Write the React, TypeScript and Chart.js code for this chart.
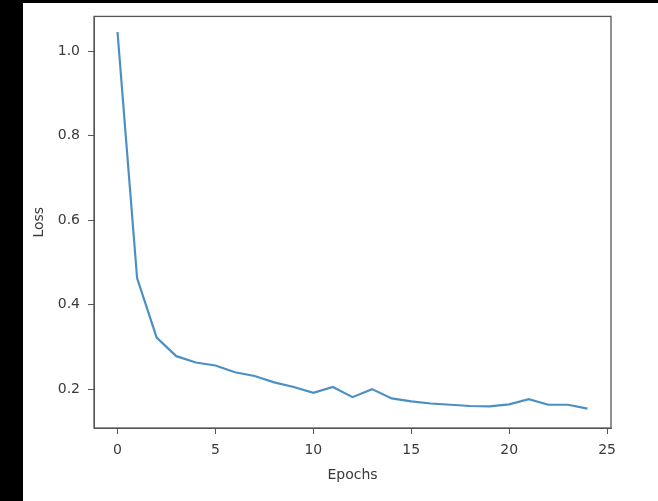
import React, { useEffect, useRef } from "react";
import { Chart, registerables } from "chart.js";

Chart.register(...registerables);

const epochs = [0, 1, 2, 3, 4, 5, 6, 7, 8, 9, 10, 11, 12, 13, 14, 15, 16, 17, 18, 19, 20, 21, 22, 23, 24];
const loss = [
  1.045, 0.463, 0.322, 0.278, 0.263, 0.256, 0.24, 0.231, 0.216, 0.205,
  0.191, 0.205, 0.181, 0.2, 0.178, 0.171, 0.166, 0.163, 0.16, 0.159,
  0.164, 0.176, 0.163, 0.163, 0.154,
];
const xTicks = [0, 5, 10, 15, 20, 25];
const yTicks = [0.2, 0.4, 0.6, 0.8, 1.0];
const xLabel = "Epochs";
const yLabel = "Loss";

const W = 658;
const H = 501;

export default function App() {
  const ref = useRef<HTMLCanvasElement | null>(null);

  useEffect(() => {
    if (!ref.current) return;
    const font = { family: "'DejaVu Sans', sans-serif", size: 14 };
    const axisColor = "#555";
    const textColor = "#3a3a3a";

    const bgPlugin = {
      id: "bg",
      beforeDraw(chart: any) {
        const c = chart.ctx;
        c.save();
        c.fillStyle = "#000";
        c.fillRect(0, 0, chart.width, chart.height);
        c.fillStyle = "#fff";
        c.fillRect(23, 3, chart.width - 23, chart.height - 3);
        c.restore();
      },
      afterDraw(chart: any) {
        const a = chart.chartArea;
        const c = chart.ctx;
        c.save();
        c.strokeStyle = axisColor;
        c.lineWidth = 1.3;
        c.strokeRect(a.left, a.top, a.right - a.left, a.bottom - a.top);
        c.restore();
      },
    };

    const chart = new Chart(ref.current, {
      type: "line",
      data: {
        datasets: [
          {
            data: epochs.map((e, i) => ({ x: e, y: loss[i] })),
            borderColor: "rgba(45,125,185,0.85)",
            borderWidth: 2.2,
            pointRadius: 0,
            tension: 0,
            fill: false,
          },
        ],
      },
      options: {
        responsive: false,
        animation: false,
        devicePixelRatio: 1,
        layout: { padding: { left: 24, top: 14, right: 47, bottom: 0 } },
        plugins: { legend: { display: false }, tooltip: { enabled: false } },
        scales: {
          x: {
            type: "linear",
            min: -1.2,
            max: 25.2,
            afterFit: (s: any) => {
              s.height = 73;
            },
            afterBuildTicks: (s: any) => {
              s.ticks = xTicks.map((v) => ({ value: v }));
            },
            ticks: {
              font,
              color: textColor,
              padding: 8,
              maxRotation: 0,
              callback: (v: any) => String(v),
            },
            grid: {
              drawOnChartArea: false,
              drawTicks: true,
              tickLength: 6,
              color: axisColor,
            },
            border: { display: true, color: axisColor },
            title: {
              display: true,
              text: xLabel,
              font,
              color: textColor,
              padding: { top: 4, bottom: 17 },
            },
          },
          y: {
            type: "linear",
            min: 0.108,
            max: 1.082,
            afterFit: (s: any) => {
              s.width = 70;
            },
            afterBuildTicks: (s: any) => {
              s.ticks = yTicks.map((v) => ({ value: v }));
            },
            ticks: {
              font,
              color: textColor,
              padding: 8,
              callback: (v: any) => Number(v).toFixed(1),
            },
            grid: {
              drawOnChartArea: false,
              drawTicks: true,
              tickLength: 6,
              color: axisColor,
            },
            border: { display: true, color: axisColor },
            title: {
              display: true,
              text: yLabel,
              font,
              color: textColor,
              padding: { top: 7, bottom: 4 },
            },
          },
        },
      },
      plugins: [bgPlugin],
    });
    return () => chart.destroy();
  }, []);

  return (
    <div style={{ position: "fixed", left: 0, top: 0, width: W, height: H, background: "#000" }}>
      <canvas ref={ref} width={W} height={H} style={{ display: "block", width: W, height: H }} />
    </div>
  );
}
